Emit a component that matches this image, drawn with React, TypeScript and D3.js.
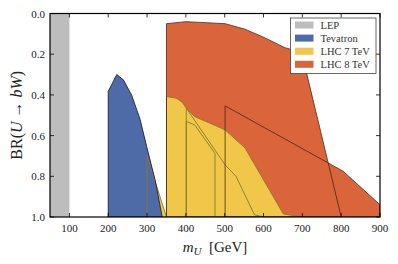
import React from 'react';
import * as d3 from 'd3';

// BR(U -> bW) exclusion regions vs. m_U [GeV]
const xTicks = [100, 200, 300, 400, 500, 600, 700, 800, 900];
const yTicks = [0.0, 0.2, 0.4, 0.6, 0.8, 1.0];

const lepRegion = [[50, 1.0], [50, 0.0], [100, 0.0], [100, 1.0]];

const tevatronRegion = [
  [200, 1.0], [200, 0.383], [222, 0.30], [239, 0.326], [260, 0.40],
  [282, 0.52], [299, 0.654], [321, 0.82], [339, 1.0],
];

const lhc7Main = [
  [350, 1.0], [350, 0.408], [375, 0.416], [390, 0.435], [401, 0.465],
  [423, 0.507], [458, 0.536], [501, 0.572], [552, 0.66], [651, 0.985], [700, 1.0],
];
const lhc7Diag = [[401, 1.0], [401, 0.465], [501, 0.744], [529, 0.80], [577, 0.99], [602, 1.0]];
const lhc7Narrow = [[401, 1.0], [401, 0.53], [423, 0.548], [475, 0.688], [475, 1.0]];
const lhc7Low = [[300, 1.0], [300, 0.70], [350, 1.0]];

const lhc8Main = [
  [350, 1.0], [350, 0.05], [400, 0.04], [501, 0.05], [552, 0.077], [604, 0.12],
  [655, 0.168], [698, 0.19], [800, 1.0],
];
const lhc8Diag = [[501, 1.0], [501, 0.454], [805, 0.775], [900, 0.94], [900, 1.0]];

const legendItems = [
  { label: 'LEP', color: '#bdbdbd' },
  { label: 'Tevatron', color: '#4f6ba7' },
  { label: 'LHC 7 TeV', color: '#f1c74a' },
  { label: 'LHC 8 TeV', color: '#da653b' },
];

const W = 398;
const H = 264;
const margin = { top: 13.5, right: 18, bottom: 47, left: 50 };
const font = '"Liberation Serif", "DejaVu Serif", serif';

export default function App() {
  const x = d3.scaleLinear().domain([50, 900]).range([margin.left, W - margin.right]);
  const y = d3.scaleLinear().domain([0, 1]).range([margin.top, H - margin.bottom]);
  const line = d3.line<number[]>().x(d => x(d[0])).y(d => y(d[1]));
  const closed = (pts: number[][]) => line(pts) + 'Z';

  const [x0, x1] = x.range();
  const [y0, y1] = y.range();
  const tl = 4;

  const fills = [
    { pts: lhc8Main, c: legendItems[3].color },
    { pts: lhc8Diag, c: legendItems[3].color },
    { pts: lhc7Main, c: legendItems[2].color },
    { pts: lhc7Diag, c: legendItems[2].color },
    { pts: lhc7Narrow, c: legendItems[2].color },
    { pts: lhc7Low, c: legendItems[2].color },
    { pts: tevatronRegion, c: legendItems[1].color },
    { pts: lepRegion, c: legendItems[0].color },
  ];
  const edges = [
    { pts: lhc7Main, c: '#8a7a2c', o: 0.9 },
    { pts: lhc7Diag, c: '#8a7a2c', o: 0.9 },
    { pts: lhc7Narrow, c: '#8a7a2c', o: 0.9 },
    { pts: lhc7Low, c: '#8a7a2c', o: 0.9 },
    { pts: lhc8Main, c: '#4a1f12', o: 0.75 },
    { pts: lhc8Diag, c: '#4a1f12', o: 0.75 },
    { pts: tevatronRegion, c: '#1a2440', o: 0.9 },
  ];

  return (
    <svg width={W} height={H} style={{ position: 'absolute', left: 0, top: 0, background: '#fff' }}>
      <defs>
        <clipPath id="plot">
          <rect x={x0} y={y0} width={x1 - x0} height={y1 - y0} />
        </clipPath>
      </defs>
      <g clipPath="url(#plot)">
        {fills.map((f, i) => (
          <path key={'f' + i} d={closed(f.pts)} fill={f.c} stroke="none" />
        ))}
        {edges.map((e, i) => (
          <path key={'e' + i} d={closed(e.pts)} fill="none" stroke={e.c} strokeOpacity={e.o}
            strokeWidth={1} strokeLinejoin="round" />
        ))}
      </g>

      {/* ticks, inward on all sides */}
      <g stroke="#000" strokeWidth={0.8}>
        {xTicks.map(t => (
          <g key={'xt' + t}>
            <line x1={x(t)} x2={x(t)} y1={y1} y2={y1 - tl} />
            <line x1={x(t)} x2={x(t)} y1={y0} y2={y0 + tl} />
          </g>
        ))}
        {yTicks.map(t => (
          <g key={'yt' + t}>
            <line x1={x0} x2={x0 + tl} y1={y(t)} y2={y(t)} />
            <line x1={x1} x2={x1 - tl} y1={y(t)} y2={y(t)} />
          </g>
        ))}
      </g>
      <rect x={x0} y={y0} width={x1 - x0} height={y1 - y0} fill="none" stroke="#000" strokeWidth={1.2} />

      <g fontFamily={font} fontSize={11} fill="#222">
        {xTicks.map(t => (
          <text key={'xl' + t} x={x(t)} y={y1 + 14.5} textAnchor="middle">{t}</text>
        ))}
        {yTicks.map(t => (
          <text key={'yl' + t} x={x0 - 5} y={y(t) + 4} textAnchor="end">{t.toFixed(1)}</text>
        ))}
      </g>

      <text x={(x0 + x1) / 2} y={252} textAnchor="middle" fontFamily={font} fontSize={15} fill="#222">
        <tspan fontStyle="italic">m</tspan>
        <tspan fontStyle="italic" fontSize={11} dy={3}>U</tspan>
        <tspan dy={-3}>{'\u2002[GeV]'}</tspan>
      </text>
      <text transform={`translate(22,${(y0 + y1) / 2}) rotate(-90)`} textAnchor="middle"
        fontFamily={font} fontSize={16} fill="#222">
        BR(<tspan fontStyle="italic">U</tspan> → <tspan fontStyle="italic">bW</tspan>)
      </text>

      {/* legend */}
      <g fontFamily={font} fontSize={10.5} fill="#333">
        <rect x={290.5} y={18} width={85.5} height={55.5} fill="#fff" stroke="#444" strokeWidth={0.8} />
        {legendItems.map((d, i) => (
          <g key={d.label} transform={`translate(0,${25 + i * 13.1})`}>
            <rect x={295} y={-3.5} width={18.5} height={7} fill={d.color} />
            <text x={320.5} y={3.5}>{d.label}</text>
          </g>
        ))}
      </g>
    </svg>
  );
}
